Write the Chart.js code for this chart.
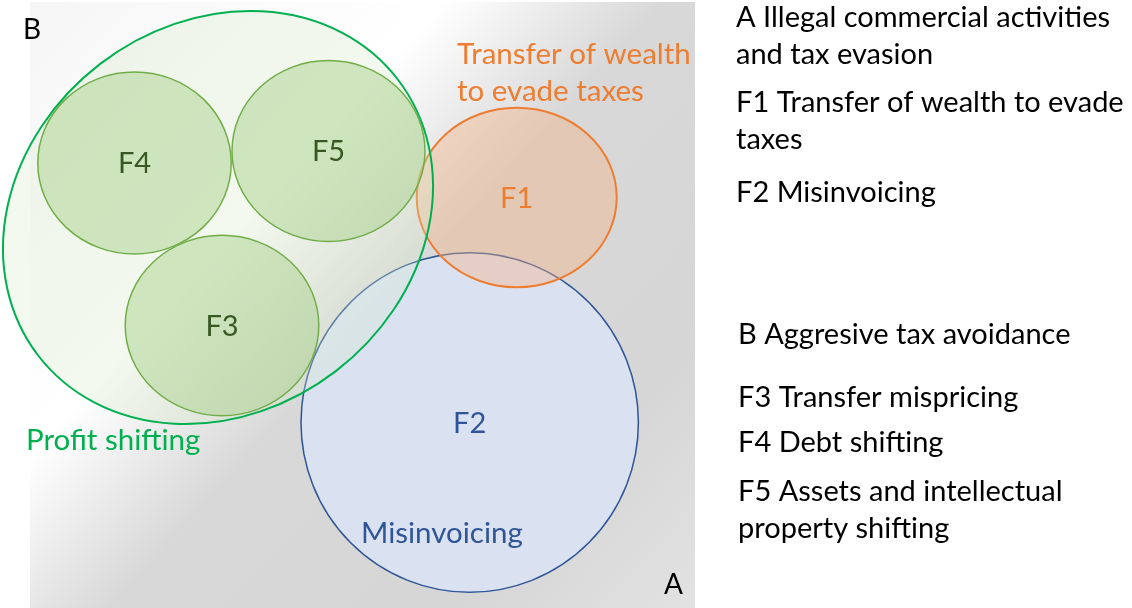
<!DOCTYPE html>
<html>
<head>
<meta charset="utf-8">
<script src="https://cdn.jsdelivr.net/npm/chart.js@4"></script>
<style>
  html, body { margin: 0; padding: 0; background: #ffffff; }
  #wrap { width: 1132px; height: 608px; position: relative; }
</style>
</head>
<body>
<div id="wrap"><canvas id="myChart"></canvas></div>
<script>
// diagram units: x 0..1132 left to right, y 0..608 top to bottom
var shapeNames = ['F2', 'F1', 'Profit shifting', 'F3', 'F4', 'F5'];
var centerX = [469.7, 516.7, 218, 222, 134.5, 328.5];
var centerY = [422.5, 197.5, 217.5, 325.5, 163, 151];
var radiusX = [168.7, 100, 226.7, 96.8, 96.7, 96.5];
var radiusY = [169.8, 89.8, 193.6, 90.2, 91, 90.5];
var tiltDeg = [0, 0, -37.5, 0, 0, 0];
var shapeLabels = ['F2', 'F1', '', 'F3', 'F4', 'F5'];

var legendA = ['A Illegal commercial activities', 'and tax evasion', 'F1 Transfer of wealth to evade', 'taxes', 'F2 Misinvoicing'];
var legendB = ['B Aggresive tax avoidance', 'F3 Transfer mispricing', 'F4 Debt shifting', 'F5 Assets and intellectual', 'property shifting'];

var fills = ['rgba(218,227,243,0.95)', 'rgba(244,177,131,0.4)', 'rgba(214,234,200,0.28)',
  'rgba(169,209,142,0.5)', 'rgba(169,209,142,0.5)', 'rgba(169,209,142,0.5)'];
var strokes = ['#2f5597', '#ed7d31', '#00b050', '#70ad47', '#70ad47', '#70ad47'];
var strokeW = [1.5, 2, 2, 1.5, 1.5, 1.5];
var labelColors = ['#2f5597', '#ed7d31', '#00b050', '#385723', '#385723', '#385723'];

var FONT = 'Lato, "Open Sans", sans-serif';

var diagramPlugin = {
  id: 'diagram',
  beforeDatasetsDraw: function (chart) {
    var ctx = chart.ctx;
    var xs = chart.scales.x, ys = chart.scales.y;
    var px = function (v) { return xs.getPixelForValue(v); };
    var py = function (v) { return ys.getPixelForValue(v); };

    // background panel
    var x0 = px(30), y0 = py(2), x1 = px(695), y1 = py(608);
    var g = ctx.createLinearGradient(x0, y0, x1, y1);
    g.addColorStop(0, '#f6f6f6');
    g.addColorStop(0.34, '#ffffff');
    g.addColorStop(0.52, '#d8d8d8');
    g.addColorStop(0.8, '#d6d6d6');
    g.addColorStop(1, '#e2e2e2');
    ctx.save();
    ctx.fillStyle = g;
    ctx.fillRect(x0, y0, x1 - x0, y1 - y0);

    // ellipses
    for (var i = 0; i < shapeNames.length; i++) {
      var cx = px(centerX[i]), cy = py(centerY[i]);
      var rx = Math.abs(px(centerX[i] + radiusX[i]) - cx);
      var ry = Math.abs(py(centerY[i] + radiusY[i]) - cy);
      ctx.beginPath();
      ctx.ellipse(cx, cy, rx, ry, tiltDeg[i] * Math.PI / 180, 0, Math.PI * 2);
      ctx.fillStyle = fills[i];
      ctx.fill();
      ctx.lineWidth = strokeW[i];
      ctx.strokeStyle = strokes[i];
      ctx.stroke();
    }

    // labels inside ellipses
    ctx.font = '29px ' + FONT;
    ctx.textAlign = 'center';
    ctx.textBaseline = 'alphabetic';
    for (var j = 0; j < shapeNames.length; j++) {
      if (!shapeLabels[j]) continue;
      ctx.fillStyle = labelColors[j];
      ctx.fillText(shapeLabels[j], px(centerX[j]), py(centerY[j]) + 10);
    }

    // area names
    ctx.font = '29.5px ' + FONT;
    ctx.textAlign = 'left';
    ctx.fillStyle = '#ed7d31';
    ctx.fillText('Transfer of wealth', px(457), py(64));
    ctx.fillText('to evade taxes', px(457), py(101));
    ctx.fillStyle = '#00b050';
    ctx.fillText('Profit shifting', px(26), py(450));
    ctx.fillStyle = '#2f5597';
    ctx.fillText('Misinvoicing', px(361), py(543));
    ctx.fillStyle = '#000000';
    ctx.font = '28px ' + FONT;
    ctx.fillText('B', px(23), py(39));
    ctx.fillText('A', px(664), py(594));

    // side text
    ctx.font = '29px ' + FONT;
    var aBase = [27, 64, 112, 149, 202];
    var bBase = [344, 407, 452, 501, 538];
    legendA.forEach(function (t, k) { ctx.fillText(t, 736, aBase[k]); });
    legendB.forEach(function (t, k) { ctx.fillText(t, 738, bBase[k]); });
    ctx.restore();
  }
};

var ctx = document.getElementById('myChart').getContext('2d');
var myChart = new Chart(ctx, {
  type: 'scatter',
  data: {
    datasets: [{
      label: 'centres',
      data: centerX.map(function (x, i) { return { x: x, y: centerY[i] }; }),
      pointRadius: 0,
      pointHoverRadius: 0
    }]
  },
  options: {
    responsive: true,
    maintainAspectRatio: false,
    animation: false,
    layout: { padding: 0 },
    plugins: { legend: { display: false }, tooltip: { enabled: false } },
    scales: {
      x: { type: 'linear', min: 0, max: 1132, display: false },
      y: { type: 'linear', min: 0, max: 608, reverse: true, display: false }
    }
  },
  plugins: [diagramPlugin]
});
</script>
</body>
</html>
